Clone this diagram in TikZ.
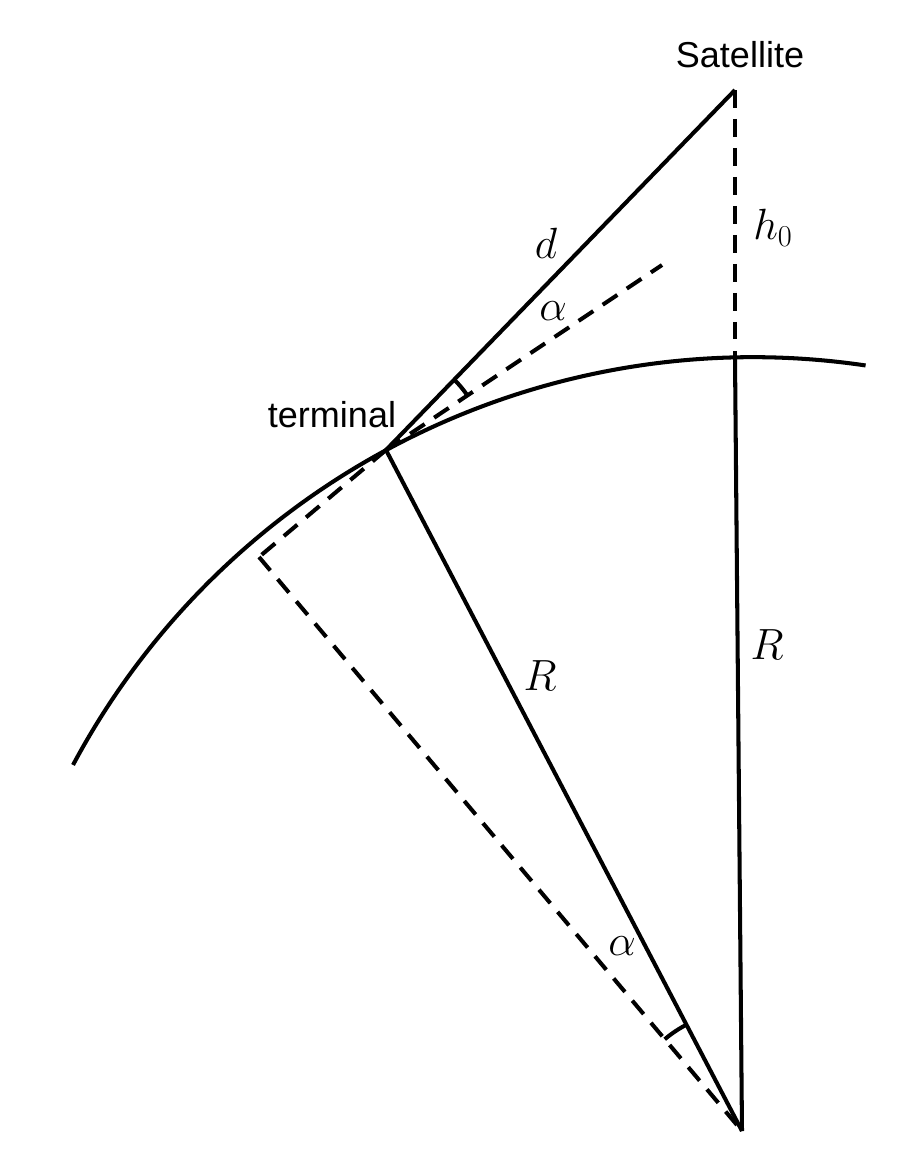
\documentclass[tikz,border=0pt]{standalone}
\usepackage{fontspec}
\setmainfont{Liberation Sans}
\begin{document}
\begin{tikzpicture}[x=0.02cm,y=-0.02cm,
  line/.style={line width=2.3pt},
  dline/.style={line width=2.3pt,dash pattern=on 10pt off 6.5pt},
  lab/.style={font=\fontsize{20.5}{24}\selectfont,inner sep=0pt},
  mlab/.style={font=\fontsize{24.5}{29}\selectfont,inner sep=0pt}]
\useasboundingbox (0,0) rectangle (909,1157);
\coordinate (S) at (735,90);
\coordinate (T) at (386,450);
\coordinate (O) at (742,1131);
\coordinate (P) at (735,358);
\coordinate (F) at (259,557);
\coordinate (E) at (662,265);
\coordinate (C) at (753,1128);
% earth arc
\draw[line] ([shift={(151.9:15.42cm)}]C) arc[start angle=151.9,end angle=81.6,radius=15.42cm];
% lines
\draw[line] (T) -- (S);
\draw[dline] (S) -- (P);
\draw[line] (P) -- (O);
\draw[line] (T) -- (O);
\draw[dline] (T) -- (E);
\draw[dline] (T) -- (F);
\draw[dline] (F) -- (O);
% angle marks
\draw[line] ([shift={(33.8:1.96cm)}]T) arc[start angle=33.8,end angle=45.9,radius=1.96cm];
\draw[line] ([shift={(117.6:2.4cm)}]O) arc[start angle=117.6,end angle=130.1,radius=2.4cm];
% labels
\node[lab] (sat) at (740,55) {Satellite};
\node[lab] (ter) at (332,415) {terminal};
\node[mlab] (ld) at (546,243) {$d$};
\node[mlab] (la1) at (553,311) {$\alpha$};
\node[mlab] (lh) at (773,228) {$h_0$};
\node[mlab] (lR1) at (540,676) {$R$};
\node[mlab] (lR2) at (767,645) {$R$};
\node[mlab] (la2) at (622,946) {$\alpha$};
\end{tikzpicture}
\end{document}
